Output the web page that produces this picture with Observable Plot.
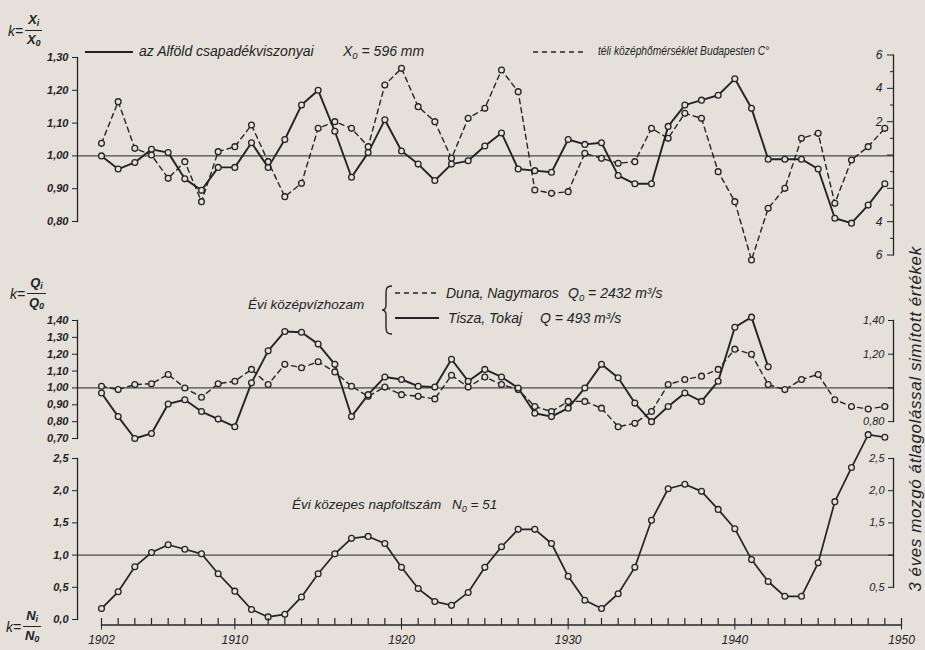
<!DOCTYPE html>
<html>
<head>
<meta charset="utf-8">
<script src="https://cdn.jsdelivr.net/npm/d3@7"></script>
<script src="https://cdn.jsdelivr.net/npm/@observablehq/plot@0.6"></script>
<style>
  html, body { margin: 0; padding: 0; background: #e5e1da; }
  #chart { position: relative; width: 925px; height: 650px; background: #e5e1da; overflow: hidden;
           font-family: "Liberation Sans", Arial, sans-serif; color: #232323; }
  #chart svg.plot-layer { position: absolute; left: 0; top: 0; overflow: visible; }
  .t { position: absolute; font-style: italic; white-space: nowrap; line-height: 1; }
  .t sub { font-size: 0.68em; vertical-align: -0.3em; }
  .k { position: absolute; display: flex; align-items: center; font-style: italic; font-size: 14px; line-height: 1; }
  .fr { display: inline-flex; flex-direction: column; align-items: center; margin-left: 2px; font-weight: bold; font-size: 13px; }
  .fr .nu { border-bottom: 1.4px solid #232323; padding: 0 3px 2px 3px; }
  .fr .de { padding-top: 2px; }
  .fr sub { font-size: 0.7em; vertical-align: -0.25em; }
  .leg { position: absolute; }
  .side { position: absolute; left: 916px; top: 419px; transform: translate(-50%, -50%) rotate(-90deg);
          font-style: italic; font-size: 17px; letter-spacing: 0.6px; white-space: nowrap; }
</style>
</head>
<body>
<div id="chart"></div>
<script>
// ---------------- data ----------------
const years = [1902,1903,1904,1905,1906,1907,1908,1909,1910,1911,1912,1913,1914,1915,1916,1917,
               1918,1919,1920,1921,1922,1923,1924,1925,1926,1927,1928,1929,1930,1931,1932,1933,
               1934,1935,1936,1937,1938,1939,1940,1941,1942,1943,1944,1945,1946,1947,1948,1949];

// az Alföld csapadékviszonyai, k = Xi / X0
const precipK = [1.00,0.96,0.98,1.02,1.01,0.93,0.895,0.965,0.965,1.04,0.965,1.05,1.155,1.20,1.075,0.935,
                 1.01,1.11,1.015,0.975,0.925,0.975,0.985,1.03,1.07,0.96,0.955,0.95,1.05,1.035,1.04,0.94,
                 0.915,0.915,1.09,1.155,1.17,1.185,1.235,1.145,0.99,0.99,0.99,0.96,0.81,0.795,0.85,0.915];

// téli középhőmérséklet Budapesten, °C (right axis)
const winterTempC = [0.7,3.2,0.4,0.0,-1.4,-0.4,-2.8,0.2,0.5,1.8,-0.4,-2.5,-1.7,1.6,2.0,1.6,
                     0.5,4.2,5.2,2.9,2.0,-0.2,2.2,2.8,5.1,3.8,-2.1,-2.3,-2.2,0.1,-0.2,-0.5,
                     -0.4,1.6,1.0,2.5,2.2,-1.0,-2.8,-6.3,-3.2,-2.0,1.0,1.3,-2.9,-0.3,0.5,1.6];

// Tisza, Tokaj (1902–1942), k = Qi / Q0
const tiszaK = [0.97,0.83,0.70,0.73,0.905,0.93,0.86,0.815,0.77,1.03,1.22,1.335,1.33,1.26,1.14,0.83,
                0.96,1.065,1.05,1.01,1.005,1.17,1.04,1.11,1.065,1.00,0.85,0.83,0.88,1.00,1.14,1.06,
                0.91,0.80,0.89,0.97,0.92,1.04,1.36,1.42,1.125];

// Duna, Nagymaros, k = Qi / Q0
const dunaK = [1.01,0.99,1.02,1.025,1.08,1.00,0.945,1.025,1.04,1.11,1.02,1.14,1.12,1.155,1.095,1.01,
               0.95,1.005,0.96,0.95,0.935,1.075,1.005,1.065,1.02,0.99,0.89,0.86,0.92,0.92,0.88,0.77,
               0.79,0.86,1.02,1.05,1.07,1.11,1.23,1.20,1.02,0.99,1.05,1.08,0.93,0.89,0.875,0.89];

// Évi közepes napfoltszám, k = Ni / N0
const sunspotK = [0.17,0.43,0.82,1.04,1.16,1.09,1.02,0.71,0.44,0.155,0.04,0.08,0.35,0.71,1.02,1.26,
                  1.29,1.18,0.81,0.48,0.28,0.22,0.42,0.81,1.13,1.40,1.40,1.18,0.67,0.30,0.17,0.40,
                  0.81,1.54,2.03,2.10,1.99,1.71,1.41,0.93,0.59,0.36,0.36,0.88,1.83,2.36,2.87,2.83];

// tick values
const xTickLabels = [1902,1910,1920,1930,1940,1950];
const xMinorTicks = years.concat([1950]);
const precipTicks = [0.8,0.9,1.0,1.1,1.2,1.3];
const tempMajorTicks = [-6,-4,-2,0,2,4,6];
const tempMinorTicks = [-5,-3,-1,1,3,5];
const flowTicks = [0.7,0.8,0.9,1.0,1.1,1.2,1.3,1.4];
const flowRightTicks = [0.8,1.0,1.2,1.4];
const sunTicks = [0,0.5,1,1.5,2,2.5];
const sunRightTicks = [0.5,1.0,1.5,2,2.5];

// ---------------- tables ----------------
const rows = years.map((year, i) => ({year, precip: precipK[i], temp: winterTempC[i], duna: dunaK[i], sun: sunspotK[i]}));
const tisza = tiszaK.map((k, i) => ({year: years[i], k}));

// ---------------- drawing ----------------
const INK = "#232323";
const BG = "#e5e1da";
const FONT = "'Liberation Sans', Arial, sans-serif";
const chart = document.getElementById("chart");
const f2 = d => d.toFixed(2).replace(".", ",");
const f1 = d => d.toFixed(1).replace(".", ",");
const tickText = {fontSize: 11, fontWeight: "bold", fontStyle: "italic", label: null};

function layer({top, bottom, left = 77, right = 32, yDomain, marks}) {
  const opts = {
    width: 925, height: 650,
    marginTop: top, marginBottom: 650 - bottom, marginLeft: left, marginRight: right,
    x: {domain: [1902, 1950], range: [101, 901], axis: null, label: null},
    style: {background: "transparent", overflow: "visible", color: INK, fontFamily: FONT},
    marks
  };
  if (yDomain) opts.y = {domain: yDomain, label: null};
  const svg = Plot.plot(opts);
  svg.classList.add("plot-layer");
  chart.appendChild(svg);
}

const dotStyle = {r: 2.9, fill: BG, stroke: INK, strokeWidth: 1.3};
const dash = "5,4";

// top panel: precipitation (left axis)
layer({top: 57, bottom: 221, yDomain: [0.8, 1.3], marks: [
  Plot.frame({anchor: "left", stroke: INK, strokeWidth: 1.3}),
  Plot.axisY(precipTicks, {anchor: "left", tickSize: 5, tickPadding: 4, tickFormat: f2, ...tickText}),
  Plot.ruleY([1], {stroke: INK, strokeWidth: 1}),
  Plot.line(rows, {x: "year", y: "precip", stroke: INK, strokeWidth: 1.9}),
  Plot.dot(rows, {x: "year", y: "precip", ...dotStyle})
]});

// top panel: winter temperature (right axis)
layer({top: 54.5, bottom: 254.5, left: 893, right: 31, yDomain: [-6, 6], marks: [
  Plot.frame({anchor: "left", stroke: INK, strokeWidth: 1.3}),
  Plot.axisY(tempMinorTicks, {anchor: "left", tickSize: 3, tickFormat: () => "", label: null}),
  Plot.axisY(tempMajorTicks, {anchor: "left", tickSize: 6, tickPadding: 5, label: null,
    tickFormat: d => (d === 0 || d === -2) ? "" : String(Math.abs(d)),
    fontSize: 12, fontStyle: "italic"}),
  Plot.line(rows, {x: "year", y: "temp", stroke: INK, strokeWidth: 1.4, strokeDasharray: dash}),
  Plot.dot(rows, {x: "year", y: "temp", ...dotStyle})
]});

// middle panel: river discharge (left axis)
layer({top: 320, bottom: 438, yDomain: [0.7, 1.4], marks: [
  Plot.frame({anchor: "left", stroke: INK, strokeWidth: 1.3}),
  Plot.axisY(flowTicks, {anchor: "left", tickSize: 5, tickPadding: 4, tickFormat: f2, ...tickText}),
  Plot.ruleY([1], {stroke: INK, strokeWidth: 1}),
  Plot.line(rows, {x: "year", y: "duna", stroke: INK, strokeWidth: 1.4, strokeDasharray: dash}),
  Plot.line(tisza, {x: "year", y: "k", stroke: INK, strokeWidth: 1.9}),
  Plot.dot(rows, {x: "year", y: "duna", ...dotStyle}),
  Plot.dot(tisza, {x: "year", y: "k", ...dotStyle})
]});

// middle panel: right axis
layer({top: 320, bottom: 421.1, left: 893, right: 31, yDomain: [0.8, 1.4], marks: [
  Plot.frame({anchor: "left", stroke: INK, strokeWidth: 1.3}),
  Plot.axisY(flowRightTicks, {anchor: "left", tickSize: 5, tickPadding: 4,
    tickFormat: d => d === 1 ? "" : f2(d), ...tickText, fontWeight: "normal"})
]});

// bottom panel: sunspots (left axis)
layer({top: 458, bottom: 619, yDomain: [0, 2.5], marks: [
  Plot.frame({anchor: "left", stroke: INK, strokeWidth: 1.3}),
  Plot.axisY(sunTicks, {anchor: "left", tickSize: 5, tickPadding: 4, tickFormat: f1, ...tickText}),
  Plot.ruleY([1], {stroke: INK, strokeWidth: 1}),
  Plot.line(rows, {x: "year", y: "sun", stroke: INK, strokeWidth: 1.7}),
  Plot.dot(rows, {x: "year", y: "sun", ...dotStyle})
]});

// bottom panel: right axis
layer({top: 458, bottom: 586.8, left: 893, right: 31, yDomain: [0.5, 2.5], marks: [
  Plot.frame({anchor: "left", stroke: INK, strokeWidth: 1.3}),
  Plot.axisY(sunRightTicks, {anchor: "left", tickSize: 5, tickPadding: 4,
    tickFormat: d => d === 1 ? "" : f1(d), ...tickText, fontWeight: "normal"})
]});

// x axis
layer({top: 618, bottom: 624.5, left: 101, right: 24, marks: [
  Plot.frame({anchor: "bottom", stroke: INK, strokeWidth: 1.3}),
  Plot.tickX(xMinorTicks, {x: d => d, stroke: INK, strokeWidth: 1.2}),
  Plot.axisX(xTickLabels, {anchor: "bottom", tickSize: 5, tickPadding: 5, tickFormat: d => String(d),
    fontSize: 12, fontStyle: "italic", label: null})
]});

// ---------------- annotations ----------------
const html = `
<div class="k" style="left:8px;top:13px">k=<span class="fr"><span class="nu">X<sub>i</sub></span><span class="de">X<sub>0</sub></span></span></div>
<div class="k" style="left:10px;top:276px">k=<span class="fr"><span class="nu">Q<sub>i</sub></span><span class="de">Q<sub>0</sub></span></span></div>
<div class="k" style="left:6px;top:609px">k=<span class="fr"><span class="nu">N<sub>i</sub></span><span class="de">N<sub>0</sub></span></span></div>

<svg class="leg" style="left:85px;top:49px" width="50" height="6"><line x1="0" y1="3" x2="48" y2="3" stroke="${INK}" stroke-width="2"/></svg>
<div class="t" style="left:139px;top:44px;font-size:14px">az Alföld csapadékviszonyai</div>
<div class="t" style="left:343px;top:44px;font-size:14px">X<sub>0</sub> = 596 mm</div>

<svg class="leg" style="left:533px;top:49px" width="56" height="6"><line x1="0" y1="3" x2="54" y2="3" stroke="${INK}" stroke-width="1.4" stroke-dasharray="5,4"/></svg>
<div class="t" style="left:598px;top:44px;font-size:13.5px;transform:scaleX(0.76);transform-origin:0 50%">téli középhőmérséklet Budapesten C°</div>

<div class="t" style="left:248px;top:298px;font-size:13.5px">Évi középvízhozam</div>
<svg class="leg" style="left:381px;top:285px" width="14" height="50"><path d="M11 1 C5 1 5 4 5 10 L5 20 C5 24 3 25 1 25 C3 25 5 26 5 30 L5 40 C5 46 5 49 11 49" fill="none" stroke="${INK}" stroke-width="1.4"/></svg>
<svg class="leg" style="left:395px;top:290px" width="46" height="6"><line x1="0" y1="3" x2="44" y2="3" stroke="${INK}" stroke-width="1.4" stroke-dasharray="5,4"/></svg>
<svg class="leg" style="left:395px;top:315px" width="46" height="6"><line x1="0" y1="3" x2="44" y2="3" stroke="${INK}" stroke-width="1.8"/></svg>
<div class="t" style="left:446px;top:286px;font-size:14px">Duna, Nagymaros</div>
<div class="t" style="left:568px;top:286px;font-size:14px">Q<sub>0</sub> = 2432 m³/s</div>
<div class="t" style="left:448px;top:311px;font-size:14px">Tisza, Tokaj</div>
<div class="t" style="left:540px;top:311px;font-size:14px">Q = 493 m³/s</div>

<div class="t" style="left:292px;top:498px;font-size:13.5px">Évi közepes napfoltszám</div>
<div class="t" style="left:452px;top:498px;font-size:13.5px">N<sub>0</sub> = 51</div>

<div class="side">3 éves mozgó átlagolással simított értékek</div>
`;
chart.insertAdjacentHTML("beforeend", html);
</script>
</body>
</html>
